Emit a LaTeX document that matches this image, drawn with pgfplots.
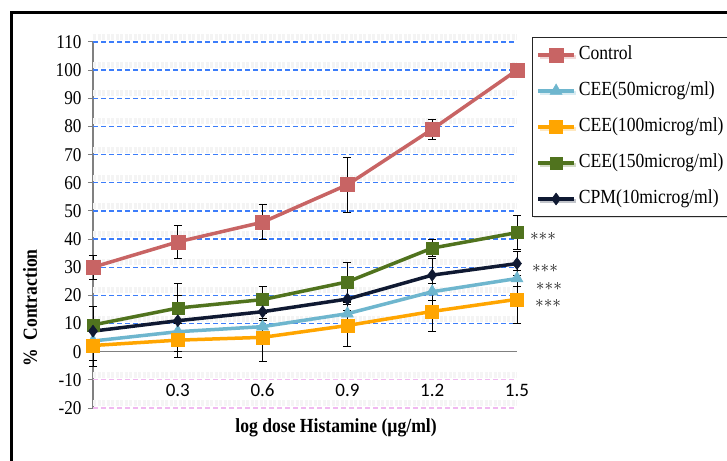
\documentclass[border=0pt]{standalone}
\usepackage{pgfplots}
\usepackage{pgfplotstable}
\pgfplotsset{compat=1.18}
\usepackage{fontspec}
\setmainfont{Liberation Serif}[FakeStretch=0.88]
\newfontfamily\carlito{Carlito}
\usetikzlibrary{shadows}
\definecolor{ctrl}{RGB}{200,100,100}
\definecolor{ceeA}{RGB}{110,182,206}
\definecolor{ceeB}{RGB}{255,165,0}
\definecolor{ceeC}{RGB}{80,115,30}
\definecolor{cpm}{RGB}{15,25,50}
\definecolor{gridblue}{RGB}{60,125,250}
\definecolor{gridpink}{RGB}{240,185,240}

\pgfplotstableread{
x y e
0 30 4.3
0.3 39 6
0.6 46 6.2
0.9 59.3 9.7
1.2 79 3.5
1.5 100 0
}\ctrl
\pgfplotstableread{
x y e
0 3.8 7
0.3 7.1 7
0.6 8.9 3
0.9 13.5 4
1.2 21.3 3
1.5 26 3
}\ceea
\pgfplotstableread{
x y e
0 2.2 7.5
0.3 4.1 6
0.6 5.1 8.5
0.9 9.3 7.5
1.2 14.3 7.2
1.5 18.6 8.5
}\ceeb
\pgfplotstableread{
x y e
0 9.5 6.5
0.3 15.5 8.8
0.6 18.5 4.8
0.9 24.8 6.8
1.2 36.8 3
1.5 42.3 6
}\ceec
\pgfplotstableread{
x y e
0 7.3 3
0.3 11 9
0.6 14.2 3
0.9 18.7 4
1.2 27.2 6
1.5 31.3 4.2
}\cpmt

\pgfplotsset{eb/.style={error bars/y dir=both, error bars/y explicit,
  error bars/error bar style={black, line width=0.9pt, solid},
  error bars/error mark options={rotate=90, mark size=4pt, black, line width=0.9pt, solid}}}

\newcommand{\stars}{${\ast}{\ast}{\ast}$}
\tikzset{starnode/.style={font=\fontsize{18}{18}\selectfont, text=black!90, inner sep=0pt}}

\begin{document}
\begin{tikzpicture}
\useasboundingbox (0,0) rectangle (727pt,460pt);
\fill[white] (0,0) rectangle (727pt,460pt);
\draw[line width=3pt] (11pt,-5pt) -- (11pt,447pt) -- (740pt,447pt);
\begin{axis}[
  at={(93pt,52pt)}, anchor=south west,
  scale only axis, width=424pt, height=366pt,
  xmin=0, xmax=1.5, ymin=-20, ymax=110,
  clip=false,
  axis lines=left,
  axis line style={-, draw=gray, line width=1.2pt},
  x axis line style={draw=none},
  ytick={-20,-10,...,110},
  xtick={0.3,0.6,0.9,1.2,1.5},
  xticklabels={0.3,0.6,0.9,1.2,1.5},
  tick align=outside,
  major tick length=5pt,
  ytick style={draw=gray, line width=1pt},
  xtick style={draw=none},
  /pgf/number format/assume math mode=true,
  yticklabel style={font=\fontsize{19.5}{20}\selectfont, xshift=-3pt},
  xticklabel style={font=\carlito\fontsize{19}{20}\selectfont, anchor=center, yshift=23pt},
  legend style={at={(1.035,1.0137)}, anchor=north west, draw=black!85, line width=1pt,
    fill=white, inner xsep=4pt, inner ysep=8pt,
    font=\fontsize{20}{22}\selectfont,
    nodes={inner sep=0pt, text height=14pt, text depth=5pt, anchor=west},
    row sep=17pt,
    drop shadow={shadow xshift=2pt, shadow yshift=-2pt, opacity=0.25}},
  legend cell align=left,
  /tikz/every odd column/.append style={column sep=3pt},
  legend image code/.code={\draw[mark repeat=2, mark phase=2, #1] plot coordinates {(0pt,0pt) (18pt,0pt) (36pt,0pt)};},
]
% shadow bands and gridlines
\pgfplotsinvokeforeach{10,20,30,40,50,60,70,80,90,100,110}{
  \draw[gray!9, line width=6pt, dash pattern=on 3pt off 1.5pt, yshift=5pt] (axis cs:0,#1) -- (axis cs:1.5,#1);
  \draw[gridblue, line width=1.3pt, dash pattern=on 5pt off 3pt] (axis cs:0,#1) -- (axis cs:1.5,#1);
}
\pgfplotsinvokeforeach{-10,-20}{
  \draw[gray!8, line width=6pt, dash pattern=on 3pt off 1.5pt, yshift=5pt] (axis cs:0,#1) -- (axis cs:1.5,#1);
  \draw[gridpink, line width=1.2pt, dash pattern=on 5pt off 3pt] (axis cs:0,#1) -- (axis cs:1.5,#1);
}
\draw[gray, line width=1.2pt] (axis cs:0,0) -- (axis cs:1.5,0);

\addplot[ctrl, line width=3.5pt, mark=square*, mark size=7pt, mark options={solid, fill=ctrl, draw=ctrl, line width=0.5pt}, eb] table[x=x, y=y, y error=e] {\ctrl};
\addlegendentry{Control}
\addplot[ceeA, line width=3.5pt, mark=triangle*, mark size=7pt, mark options={solid, fill=ceeA, draw=ceeA, line width=0.5pt}, eb] table[x=x, y=y, y error=e] {\ceea};
\addlegendentry{CEE(50microg/ml)}
\addplot[ceeB, line width=3.5pt, mark=square*, mark size=6.5pt, mark options={solid, fill=ceeB, draw=ceeB, line width=0.5pt}, eb] table[x=x, y=y, y error=e] {\ceeb};
\addlegendentry{CEE(100microg/ml)}
\addplot[ceeC, line width=3.5pt, mark=square*, mark size=6pt, mark options={solid, fill=ceeC, draw=ceeC, line width=0.5pt}, eb] table[x=x, y=y, y error=e] {\ceec};
\addlegendentry{CEE(150microg/ml)}
\addplot[cpm, line width=3.5pt, mark=diamond*, mark size=6pt, mark options={solid, fill=cpm, draw=cpm, line width=0.5pt}, eb] table[x=x, y=y, y error=e] {\cpmt};
\addlegendentry{CPM(10microg/ml)}

\node[starnode] at (axis cs:1.592,41.0) {\stars};
\node[starnode] at (axis cs:1.599,29.7) {\stars};
\node[starnode] at (axis cs:1.613,23.3) {\stars};
\node[starnode] at (axis cs:1.610,17.3) {\stars};

\node[font=\bfseries\fontsize{20}{22}\selectfont] at (axis cs:0.86,-27.1) {log dose Histamine (µg/ml)};
\node[rotate=90, font=\bfseries\fontsize{20}{22}\selectfont] at (axis cs:-0.223,15.5) {\%\ \ Contraction};
\end{axis}
\end{tikzpicture}
\end{document}
